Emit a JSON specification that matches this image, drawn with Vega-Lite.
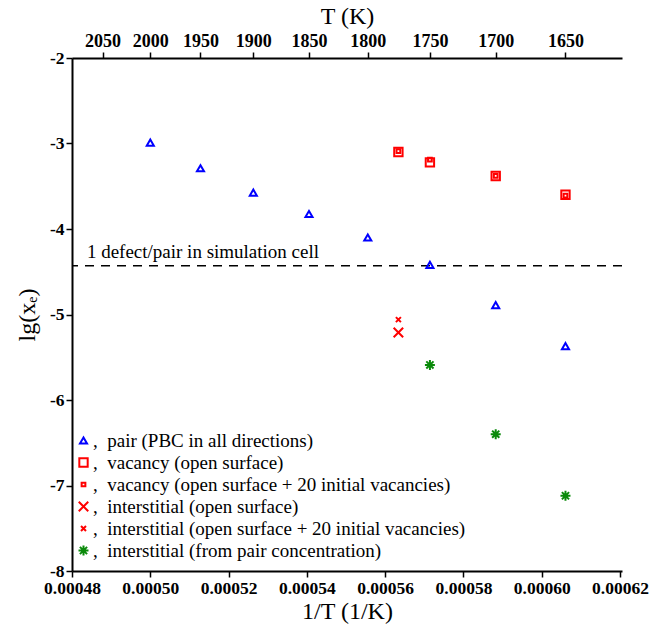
{
  "$schema": "https://vega.github.io/schema/vega-lite/v6.json",
  "width": 550,
  "height": 513,
  "autosize": {"type": "none"},
  "padding": {"left": 72, "top": 58, "right": 48, "bottom": 55},
  "background": "white",
  "config": {
    "view": {"stroke": null},
    "axis": {
      "grid": false,
      "domainColor": "black",
      "domainWidth": 2,
      "tickColor": "black",
      "tickWidth": 1.5,
      "tickSize": 6,
      "labelFont": "Liberation Serif, Times New Roman, serif",
      "labelFontWeight": "bold",
      "labelFontSize": 17.5,
      "labelColor": "black",
      "titleFont": "Liberation Serif, Times New Roman, serif",
      "titleFontWeight": "normal",
      "titleFontSize": 24,
      "titleColor": "black",
      "labelFlush": false,
      "labelOverlap": false,
      "labelBound": false
    }
  },
  "data": {
    "values": [
      {"series": "pair (PBC in all directions)", "T": 2000, "invT": 0.0005, "lgx": -2.99},
      {"series": "pair (PBC in all directions)", "T": 1950, "invT": 0.00051282, "lgx": -3.29},
      {"series": "pair (PBC in all directions)", "T": 1900, "invT": 0.00052632, "lgx": -3.575},
      {"series": "pair (PBC in all directions)", "T": 1850, "invT": 0.00054054, "lgx": -3.825},
      {"series": "pair (PBC in all directions)", "T": 1800, "invT": 0.00055556, "lgx": -4.1},
      {"series": "pair (PBC in all directions)", "T": 1750, "invT": 0.00057143, "lgx": -4.42},
      {"series": "pair (PBC in all directions)", "T": 1700, "invT": 0.00058824, "lgx": -4.89},
      {"series": "pair (PBC in all directions)", "T": 1650, "invT": 0.00060606, "lgx": -5.37},
      {"series": "vacancy (open surface)", "T": 1775, "invT": 0.00056338, "lgx": -3.1},
      {"series": "vacancy (open surface)", "T": 1750, "invT": 0.00057143, "lgx": -3.22},
      {"series": "vacancy (open surface)", "T": 1700, "invT": 0.00058824, "lgx": -3.38},
      {"series": "vacancy (open surface)", "T": 1650, "invT": 0.00060606, "lgx": -3.6},
      {"series": "vacancy (open surface + 20 initial vacancies)", "T": 1775, "invT": 0.00056338, "lgx": -3.09},
      {"series": "vacancy (open surface + 20 initial vacancies)", "T": 1750, "invT": 0.00057143, "lgx": -3.19},
      {"series": "vacancy (open surface + 20 initial vacancies)", "T": 1700, "invT": 0.00058824, "lgx": -3.38},
      {"series": "vacancy (open surface + 20 initial vacancies)", "T": 1650, "invT": 0.00060606, "lgx": -3.61},
      {"series": "interstitial (open surface)", "T": 1775, "invT": 0.00056338, "lgx": -5.21},
      {"series": "interstitial (open surface + 20 initial vacancies)", "T": 1775, "invT": 0.00056338, "lgx": -5.06},
      {"series": "interstitial (from pair concentration)", "T": 1750, "invT": 0.00057143, "lgx": -5.59},
      {"series": "interstitial (from pair concentration)", "T": 1700, "invT": 0.00058824, "lgx": -6.4},
      {"series": "interstitial (from pair concentration)", "T": 1650, "invT": 0.00060606, "lgx": -7.12}
    ]
  },
  "resolve": {"axis": {"x": "independent"}},
  "layer": [
    {
      "data": {"values": [{"label": "1 defect/pair in simulation cell", "invT": 0.0004838, "lgx": -4.43}]},
      "mark": {"type": "rule", "color": "black", "strokeWidth": 1.6, "strokeDash": [9, 7]},
      "encoding": {
        "y": {"field": "lgx", "type": "quantitative", "scale": {"domain": [-8, -2], "nice": false, "zero": false}}
      }
    },
    {
      "data": {"values": [{"label": "1 defect/pair in simulation cell", "invT": 0.0004838, "lgx": -4.43}]},
      "mark": {"type": "text", "align": "left", "baseline": "alphabetic", "dy": -8, "font": "Liberation Serif, Times New Roman, serif", "fontSize": 19, "color": "black"},
      "encoding": {
        "x": {"field": "invT", "type": "quantitative", "axis": null},
        "y": {"field": "lgx", "type": "quantitative"},
        "text": {"field": "label"}
      }
    },
    {
      "mark": {"type": "point", "filled": false, "strokeWidth": 2, "opacity": 1},
      "encoding": {
        "x": {
          "field": "invT", "type": "quantitative",
          "scale": {"domain": [0.00048, 0.0006205], "nice": false, "zero": false},
          "axis": {
            "orient": "bottom",
            "title": "1/T (1/K)",
            "values": [0.00048, 0.0005, 0.00052, 0.00054, 0.00056, 0.00058, 0.0006, 0.00062],
            "format": ".5f",
            "labelPadding": 2,
            "titlePadding": 3
          }
        },
        "y": {
          "field": "lgx", "type": "quantitative",
          "scale": {"domain": [-8, -2], "nice": false, "zero": false},
          "axis": {
            "title": "lg(xₑ)",
            "values": [-8, -7, -6, -5, -4, -3, -2],
            "labelExpr": "'' + datum.value",
            "labelPadding": 2,
            "titlePadding": 10
          }
        },
        "color": {
          "field": "series", "type": "nominal",
          "scale": {
            "domain": ["pair (PBC in all directions)", "vacancy (open surface)", "vacancy (open surface + 20 initial vacancies)", "interstitial (open surface)", "interstitial (open surface + 20 initial vacancies)", "interstitial (from pair concentration)"],
            "range": ["#0000ff", "#ff0000", "#ff0000", "#ff0000", "#ff0000", "#0a8a0a"]
          },
          "legend": {
            "orient": "none",
            "legendX": 2,
            "legendY": 373,
            "title": null,
            "labelFont": "Liberation Serif, Times New Roman, serif",
            "labelFontSize": 19,
            "labelColor": "black",
            "labelLimit": 600,
            "labelOffset": 0,
            "rowPadding": 2,
            "symbolStrokeWidth": 2,
            "labelExpr": "',\u00a0\u00a0' + datum.label"
          }
        },
        "shape": {
          "field": "series", "type": "nominal",
          "scale": {
            "domain": ["pair (PBC in all directions)", "vacancy (open surface)", "vacancy (open surface + 20 initial vacancies)", "interstitial (open surface)", "interstitial (open surface + 20 initial vacancies)", "interstitial (from pair concentration)"],
            "range": ["triangle-up", "square", "square", "M-1,-1L1,1M-1,1L1,-1", "M-1,-1L1,1M-1,1L1,-1", "M-1,0L1,0M0,-1L0,1M-0.72,-0.72L0.72,0.72M-0.72,0.72L0.72,-0.72"]
          }
        },
        "size": {
          "field": "series", "type": "nominal",
          "scale": {
            "type": "ordinal",
            "domain": ["pair (PBC in all directions)", "vacancy (open surface)", "vacancy (open surface + 20 initial vacancies)", "interstitial (open surface)", "interstitial (open surface + 20 initial vacancies)", "interstitial (from pair concentration)"],
            "range": [50, 70, 14, 90, 25, 100]
          }
        }
      }
    },
    {
      "mark": {"type": "point", "opacity": 0},
      "encoding": {
        "x": {
          "field": "invT", "type": "quantitative",
          "axis": {
            "orient": "top",
            "title": "T (K)",
            "values": [0.00048780, 0.0005, 0.00051282, 0.00052632, 0.00054054, 0.00055556, 0.00057143, 0.00058824, 0.00060606],
            "labelExpr": "format(round(1/datum.value), 'd')",
            "labelFontSize": 18,
            "labelPadding": 2,
            "titlePadding": 4
          }
        },
        "y": {"field": "lgx", "type": "quantitative"}
      }
    }
  ]
}
